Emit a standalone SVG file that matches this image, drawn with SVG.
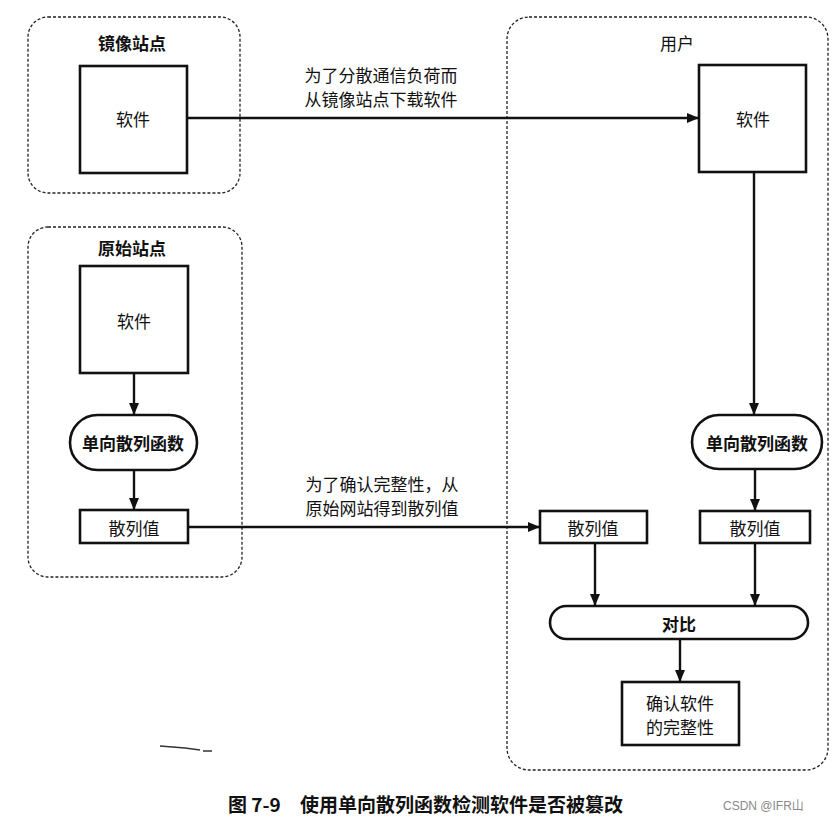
<svg xmlns="http://www.w3.org/2000/svg" width="839" height="823" viewBox="0 0 839 823">
<style>
.grp{fill:none;stroke:#222;stroke-width:1.3;stroke-dasharray:3 2}
.box{fill:#fff;stroke:#111;stroke-width:2.6}
.t{font-family:"Noto Sans CJK SC","Noto Sans",sans-serif;font-size:17px;fill:#111;text-anchor:middle;dominant-baseline:central}
.tb{font-weight:bold}
.conn{fill:none;stroke:#111;stroke-width:2.4;marker-end:url(#ah)}
</style>
<defs>
<marker id="ah" viewBox="0 0 12 10" refX="12" refY="5" markerWidth="12" markerHeight="10" markerUnits="userSpaceOnUse" orient="auto">
<path d="M0,0 L12,5 L0,10 Z" fill="#111"/>
</marker>
</defs>
<rect width="839" height="823" fill="#fff"/>

<g id="mirror-site">
<rect class="grp" x="28" y="17" width="212" height="176" rx="20"/>
<text class="t tb" x="132" y="42">镜像站点</text>
</g>
<g id="origin-site">
<rect class="grp" x="28" y="227" width="214" height="350" rx="20"/>
<text class="t tb" x="132" y="247">原始站点</text>
</g>
<g id="user">
<rect class="grp" x="507" y="17" width="321" height="753" rx="22"/>
<text class="t" x="677" y="42">用户</text>
</g>

<g id="mirror-software">
<rect class="box" x="80" y="66" width="107" height="107"/>
<text class="t" x="133" y="118">软件</text>
</g>
<g id="origin-software">
<rect class="box" x="80" y="266" width="108" height="107"/>
<text class="t" x="134" y="320">软件</text>
</g>
<g id="origin-hashfn">
<rect class="box" x="70" y="415" width="127" height="55" rx="27.5"/>
<text class="t tb" x="133" y="442">单向散列函数</text>
</g>
<g id="origin-hash">
<rect class="box" x="80" y="510" width="108" height="33"/>
<text class="t" x="134" y="527">散列值</text>
</g>
<g id="user-software">
<rect class="box" x="699" y="65" width="107" height="107"/>
<text class="t" x="753" y="118">软件</text>
</g>
<g id="user-hashfn">
<rect class="box" x="692" y="415" width="130" height="54" rx="27"/>
<text class="t tb" x="757" y="442">单向散列函数</text>
</g>
<g id="user-hash-received">
<rect class="box" x="540" y="511" width="107" height="32"/>
<text class="t" x="593" y="527">散列值</text>
</g>
<g id="user-hash-computed">
<rect class="box" x="700" y="511" width="110" height="32"/>
<text class="t" x="755" y="527">散列值</text>
</g>
<g id="compare">
<rect class="box" x="550" y="606" width="258" height="33" rx="16.5"/>
<text class="t tb" x="679" y="623">对比</text>
</g>
<g id="confirm">
<rect class="box" x="622" y="682" width="117" height="63"/>
<text class="t" x="680" y="702">确认软件</text>
<text class="t" x="680" y="726">的完整性</text>
</g>

<g id="connectors">
<path class="conn" d="M187,118 L699,118"/>
<path class="conn" d="M134,373 L134,415"/>
<path class="conn" d="M134,470 L134,510"/>
<path class="conn" d="M188,527 L540,527"/>
<path class="conn" d="M754,172 L754,415"/>
<path class="conn" d="M755,469 L755,511"/>
<path class="conn" d="M595,543 L595,606"/>
<path class="conn" d="M755,543 L755,606"/>
<path class="conn" d="M680,639 L680,682"/>
</g>

<g id="labels">
<text class="t" x="381" y="74">为了分散通信负荷而</text>
<text class="t" x="381" y="98">从镜像站点下载软件</text>
<text class="t" x="382" y="483">为了确认完整性，从</text>
<text class="t" x="382" y="507">原始网站得到散列值</text>
</g>

<path d="M160,746 L185,748 L200,750 M203,751 L212,751" stroke="#333" stroke-width="1.5" fill="none"/>

<text x="228" y="812" font-family="'Noto Sans CJK SC','Noto Sans',sans-serif" font-size="19" font-weight="bold" fill="#111">图 7-9<tspan x="300">使用单向散列函数检测软件是否被篡改</tspan></text>
<text x="723" y="810" font-family="'Liberation Sans','Noto Sans CJK SC',sans-serif" font-size="12" fill="#888">CSDN @IFR山</text>
</svg>
